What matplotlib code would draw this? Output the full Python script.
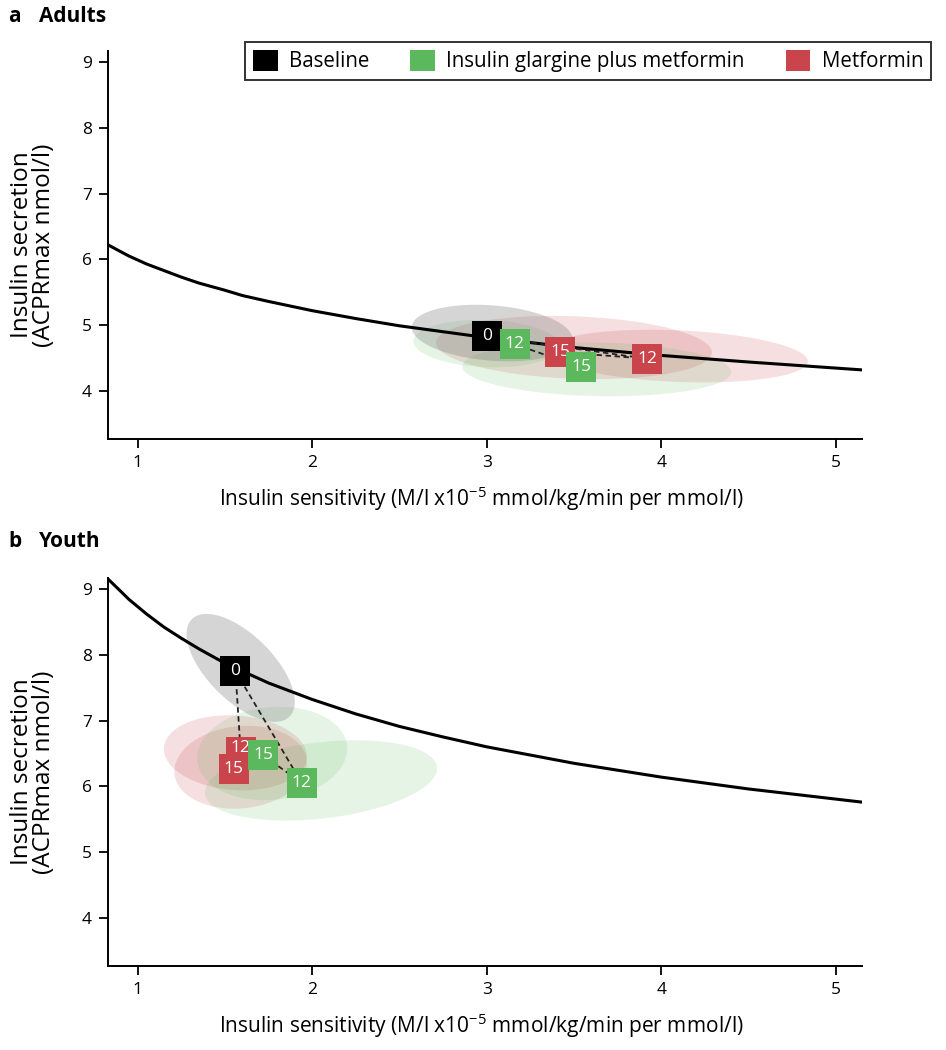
import numpy as np
import matplotlib
matplotlib.use("Agg")
import matplotlib.pyplot as plt
from matplotlib.patches import Patch

plt.rcParams["font.family"] = ["Open Sans", "DejaVu Sans"]
plt.rcParams["mathtext.fontset"] = "custom"
plt.rcParams["mathtext.rm"] = "Open Sans"

GROUPS = ["Baseline", "Insulin glargine plus metformin", "Metformin"]
COLORS = ["#000000", "#5cb85c", "#c9444b"]
VISITS = ["12", "15"]

# disposition curves
curve_x = [0.83, 0.9, 0.95, 1.0, 1.05, 1.1, 1.15, 1.25, 1.35, 1.5, 1.6, 1.75, 2.0,
           2.25, 2.5, 2.75, 3.0, 3.5, 4.0, 4.5, 5.15]
adults_curve_y = [6.22, 6.12, 6.05, 5.99, 5.93, 5.88, 5.83, 5.73, 5.64, 5.53, 5.45,
                  5.36, 5.22, 5.10, 4.99, 4.90, 4.81, 4.66, 4.54, 4.44, 4.32]
youth_curve_y = [9.15, 8.97, 8.84, 8.73, 8.62, 8.52, 8.42, 8.25, 8.09, 7.87, 7.75,
                 7.57, 7.32, 7.10, 6.91, 6.75, 6.60, 6.35, 6.14, 5.96, 5.76]

# adults: baseline, then months 12 and 15
adults_base_x = [3.00]
adults_base_y = [4.83]
adults_glar_x = [3.16, 3.54]
adults_glar_y = [4.71, 4.36]
adults_met_x = [3.92, 3.42]
adults_met_y = [4.49, 4.59]

# youth
youth_base_x = [1.56]
youth_base_y = [7.75]
youth_glar_x = [1.94, 1.72]
youth_glar_y = [6.05, 6.47]
youth_met_x = [1.59, 1.55]
youth_met_y = [6.52, 6.27]

# spread ellipses: centre x, centre y, half width, half height, correlation
adults_base_ell = [(3.03, 4.88, 0.46, 0.43, -0.2)]
adults_glar_ell = [(3.00, 4.72, 0.42, 0.36, -0.1), (3.63, 4.33, 0.77, 0.41, -0.1)]
adults_met_ell = [(4.09, 4.53, 0.75, 0.40, -0.2), (3.50, 4.66, 0.79, 0.48, -0.15)]

youth_base_ell = [(1.59, 7.80, 0.31, 0.82, -0.63)]
youth_glar_ell = [(2.05, 6.09, 0.665, 0.61, 0.3), (1.77, 6.50, 0.43, 0.71, 0.1)]
youth_met_ell = [(1.56, 6.51, 0.41, 0.57, -0.1), (1.59, 6.29, 0.38, 0.63, 0.1)]

XLABEL = "Insulin sensitivity (M/l x10$^{-5}$ mmol/kg/min per mmol/l)"
YLABEL = "Insulin secretion\n(ACPRmax nmol/l)"


def spread(ax, e, color, alpha):
    cx, cy, hx, hy, rho = e
    t = np.linspace(0, 2 * np.pi, 200)
    x = cx + hx * np.cos(t)
    y = cy + hy * (rho * np.cos(t) + np.sqrt(1 - rho ** 2) * np.sin(t))
    ax.fill(x, y, color=color, alpha=alpha, lw=0, zorder=1)


def box(ax, x, y, text, color, z, dy=0):
    ax.plot(x, y, marker="s", ms=21, color=color, mew=0, ls="none", zorder=z)
    ax.annotate(text, (x, y), xytext=(0, dy), textcoords="offset points",
                color="white", fontsize=12.5, ha="center", va="center",
                zorder=z + 0.5)


def panel(ax, curve_y, base, glar, met, base_ell, glar_ell, met_ell, lift):
    for e in met_ell:
        spread(ax, e, COLORS[2], 0.17)
    for e in glar_ell:
        spread(ax, e, COLORS[1], 0.15)
    for e in base_ell:
        spread(ax, e, "#777777", 0.30)

    ax.plot(curve_x, curve_y, color="black", lw=2.2, zorder=2)

    bx, by = base
    for xs, ys in [met, glar]:
        ax.plot([bx[0]] + xs, [by[0]] + ys, color="#222222", lw=1.3,
                ls=(0, (3, 2)), zorder=3)

    box(ax, bx[0], by[0], "0", COLORS[0], 4)
    z = 5
    for (xs, ys), c in [(met, COLORS[2]), (glar, COLORS[1])]:
        for i, (x, y, lab) in enumerate(zip(xs, ys, VISITS)):
            dy = lift if (c == COLORS[2] and i == 0) else 0
            box(ax, x, y, lab, c, z, dy)
            z += 1

    ax.set_xlim(0.83, 5.15)
    ax.set_ylim(3.27, 9.17)
    ax.set_xticks([1, 2, 3, 4, 5])
    ax.set_yticks([4, 5, 6, 7, 8, 9])
    ax.spines["top"].set_visible(False)
    ax.spines["right"].set_visible(False)
    for s in ["left", "bottom"]:
        ax.spines[s].set_linewidth(1.4)
    ax.tick_params(length=6.5, width=1.3, labelsize=12.5, pad=5)
    ax.set_xlabel(XLABEL, fontsize=15)
    ax.set_ylabel(YLABEL, fontsize=17.5, linespacing=0.9)
    ax.xaxis.set_label_coords(0.495, -0.116)
    ax.yaxis.set_label_coords(-0.069, 0.5)


fig = plt.figure(figsize=(9.46, 10.5), dpi=100)
ax_a = fig.add_axes([0.1142, 0.5819, 0.797, 0.3698])
ax_b = fig.add_axes([0.1142, 0.0800, 0.797, 0.3698])

panel(ax_a, adults_curve_y, (adults_base_x, adults_base_y),
      (adults_glar_x, adults_glar_y), (adults_met_x, adults_met_y),
      adults_base_ell, adults_glar_ell, adults_met_ell, 0)
panel(ax_b, youth_curve_y, (youth_base_x, youth_base_y),
      (youth_glar_x, youth_glar_y), (youth_met_x, youth_met_y),
      youth_base_ell, youth_glar_ell, youth_met_ell, 3)

for y, letter, name in [(0.984, "a", "Adults"), (0.4845, "b", "Youth")]:
    fig.text(0.009, y, letter, fontsize=15, fontweight="bold", va="center")
    fig.text(0.041, y, name, fontsize=15, fontweight="bold", va="center")

handles = [Patch(facecolor=c, edgecolor="none") for c in COLORS]
leg = fig.legend(handles, GROUPS, loc="center", bbox_to_anchor=(0.6216, 0.9419),
                 ncol=3, frameon=True, fancybox=False, fontsize=14.8,
                 handlelength=1.2, handleheight=1.2, handletextpad=0.55,
                 columnspacing=2.0, borderpad=0.4, borderaxespad=0)
leg.get_frame().set_edgecolor("black")
leg.get_frame().set_linewidth(1.4)

fig.savefig("out.png", dpi=100)
